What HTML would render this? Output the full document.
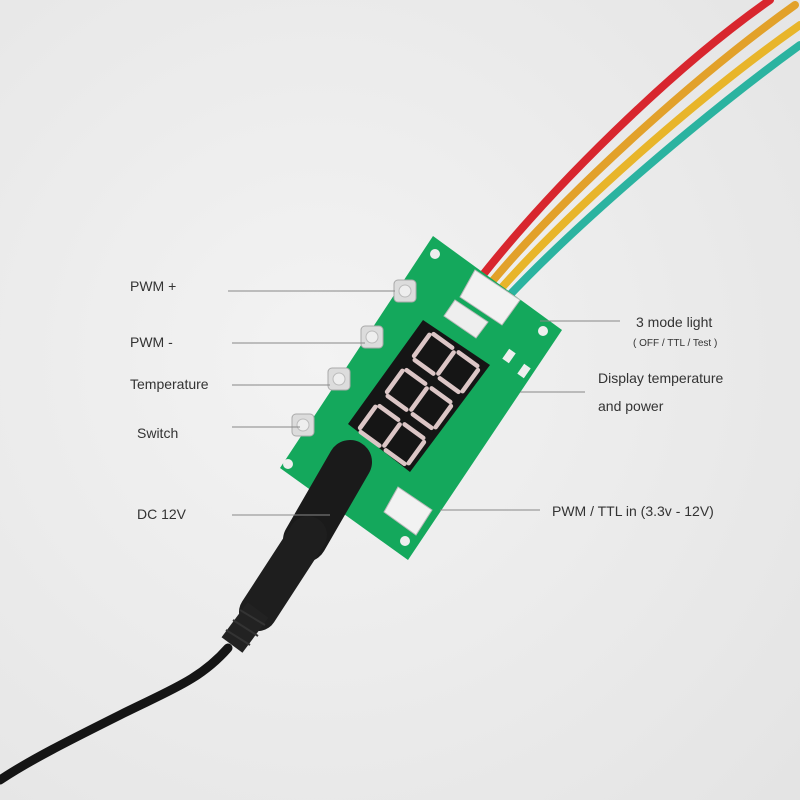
<!DOCTYPE html>
<html><head><style>
html,body{margin:0;padding:0;width:800px;height:800px;overflow:hidden;background:#ececec}
text{font-family:"Liberation Sans",sans-serif}
</style></head><body>
<svg width="800" height="800" viewBox="0 0 800 800">
<defs>
<radialGradient id="bg" cx="0.4" cy="0.45" r="0.8">
<stop offset="0" stop-color="#f3f3f3"/><stop offset="1" stop-color="#e4e4e4"/>
</radialGradient>
<g id="d8" fill="none" stroke="#dcc6c6" stroke-width="4.5" stroke-linecap="round">
<path d="M-13 -30 H13 M-13 0 H13 M-13 30 H13 M-16 -27 V-4 M16 -27 V-4 M-16 4 V27 M16 4 V27"/>
</g>
</defs>
<rect width="800" height="800" fill="url(#bg)"/>
<!-- wires -->
<g fill="none" stroke-linecap="round">
<path d="M505 300 C580 220 710 110 800 45" stroke="#2bb3a0" stroke-width="8"/>
<path d="M498 292 C570 210 700 95 800 25" stroke="#e8b52a" stroke-width="8"/>
<path d="M490 284 C560 200 690 80 795 5" stroke="#e2a12a" stroke-width="8"/>
<path d="M482 276 C550 190 670 70 770 0" stroke="#d8262e" stroke-width="8"/>
</g>
<!-- black cable -->
<path d="M228 648 C200 680 170 690 120 715 C70 740 30 760 0 780" fill="none" stroke="#151515" stroke-width="9" stroke-linecap="round"/>
<!-- board -->
<polygon points="433,236 562,330 408,560 280,468" fill="#14a85c"/>
<!-- jack -->
<path d="M350 462 L305 540" stroke="#1a1a1a" stroke-width="44" stroke-linecap="round"/>
<path d="M308 535 L258 612" stroke="#1e1e1e" stroke-width="38" stroke-linecap="round"/>
<path d="M258 610 L232 645" stroke="#222" stroke-width="26" stroke-linecap="butt"/>
<g stroke="#333" stroke-width="2"><line x1="240" y1="610" x2="265" y2="625"/><line x1="233" y1="620" x2="258" y2="636"/><line x1="226" y1="630" x2="250" y2="645"/></g>
<!-- display -->
<polygon points="423,320 490,365 410,472 348,424" fill="#151515"/>
<use href="#d8" transform="translate(446,363) rotate(-54)"/>
<use href="#d8" transform="translate(419,399) rotate(-54)"/>
<use href="#d8" transform="translate(392,435) rotate(-54)"/>
<!-- buttons -->
<g fill="#dcdcdc" stroke="#aaa">
<rect x="394" y="280" width="22" height="22" rx="4"/><rect x="361" y="326" width="22" height="22" rx="4"/>
<rect x="328" y="368" width="22" height="22" rx="4"/><rect x="292" y="414" width="22" height="22" rx="4"/>
</g>
<g fill="#eee" stroke="#bbb"><circle cx="405" cy="291" r="6"/><circle cx="372" cy="337" r="6"/><circle cx="339" cy="379" r="6"/><circle cx="303" cy="425" r="6"/></g>
<!-- connectors -->
<polygon points="475,270 520,300 502,325 460,297" fill="#f2f2f2" stroke="#bbb"/>
<polygon points="455,300 488,322 476,338 444,316" fill="#eee" stroke="#bbb"/>
<polygon points="398,487 432,510 416,535 384,512" fill="#f2f2f2" stroke="#bbb"/>
<!-- leds -->
<g fill="#eee"><rect x="505" y="350" width="8" height="12" transform="rotate(35 509 356)"/><rect x="520" y="365" width="8" height="12" transform="rotate(35 524 371)"/></g>
<!-- holes -->
<g fill="#eee"><circle cx="435" cy="254" r="5"/><circle cx="543" cy="331" r="5"/><circle cx="405" cy="541" r="5"/><circle cx="288" cy="464" r="5"/></g>
<!-- leader lines -->
<g stroke="#888" stroke-width="1">
<line x1="228" y1="291" x2="395" y2="291"/><line x1="232" y1="343" x2="365" y2="343"/>
<line x1="232" y1="385" x2="330" y2="385"/><line x1="232" y1="427" x2="300" y2="427"/>
<line x1="232" y1="515" x2="330" y2="515"/><line x1="540" y1="321" x2="620" y2="321"/>
<line x1="520" y1="392" x2="585" y2="392"/><line x1="440" y1="510" x2="540" y2="510"/>
</g>
<g font-size="14" fill="#333">
<text x="130" y="291">PWM +</text><text x="130" y="347">PWM -</text>
<text x="130" y="389">Temperature</text><text x="137" y="438">Switch</text>
<text x="137" y="519">DC 12V</text>
<text x="636" y="327">3 mode light</text>
<text x="633" y="346" font-size="10">( OFF / TTL / Test )</text>
<text x="598" y="383">Display temperature</text><text x="598" y="411">and power</text>
<text x="552" y="516">PWM / TTL in (3.3v - 12V)</text>
</g>
</svg>
</body></html>
